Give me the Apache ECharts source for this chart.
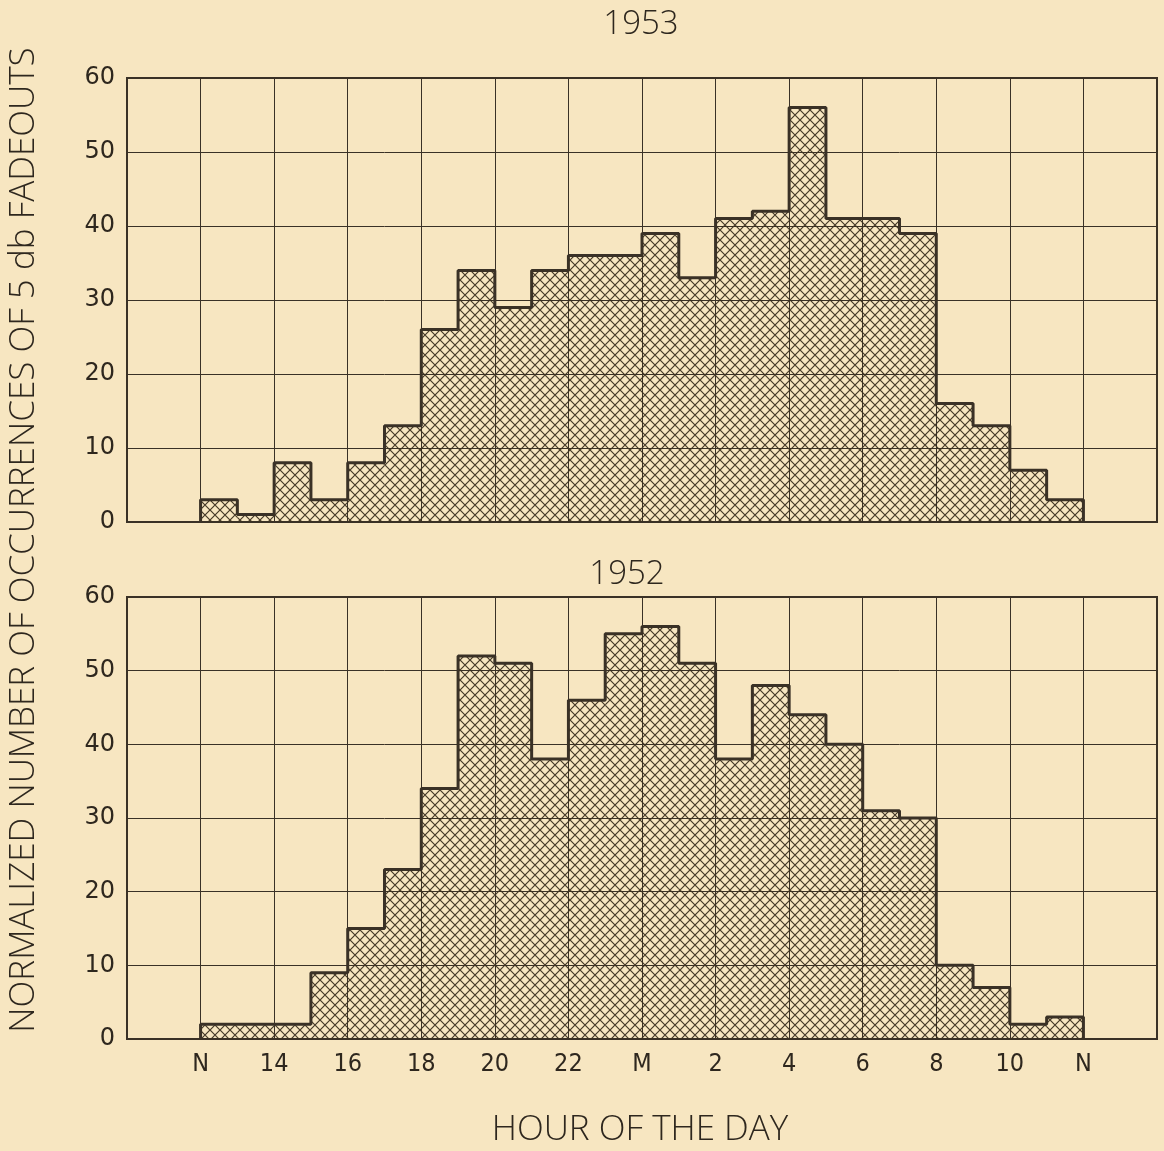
<!DOCTYPE html>
<html>
<head>
<meta charset="utf-8">
<title>5 db fadeouts by hour</title>
<script src="https://cdn.jsdelivr.net/npm/echarts@6/dist/echarts.min.js"></script>
<style>
  html, body { margin: 0; padding: 0; background: #f7e6c1; }
  #chart { width: 1164px; height: 1151px; }
</style>
</head>
<body>
<div id="chart"></div>
<script>
// hour at which each 1-hour bin starts (12 = noon, 24 = midnight, 36 = next noon)
var hours = [12, 13, 14, 15, 16, 17, 18, 19, 20, 21, 22, 23, 24, 25, 26, 27, 28, 29, 30, 31, 32, 33, 34, 35];
var counts1953 = [3, 1, 8, 3, 8, 13, 26, 34, 29, 34, 36, 36, 39, 33, 41, 42, 56, 41, 41, 39, 16, 13, 7, 3];
var counts1952 = [2, 2, 2, 9, 15, 23, 34, 52, 51, 38, 46, 55, 56, 51, 38, 48, 44, 40, 31, 30, 10, 7, 2, 3];
var tickValues = [10, 12, 14, 16, 18, 20, 22, 24, 26, 28, 30, 32, 34, 36, 38];
var tickLabels = ['', 'N', '14', '16', '18', '20', '22', 'M', '2', '4', '6', '8', '10', 'N', ''];

var ink = '#3a3126';

// cross hatch tile
var tile = document.createElement('canvas');
tile.width = 10; tile.height = 10;
var tc = tile.getContext('2d');
tc.strokeStyle = 'rgba(60,48,32,0.95)';
tc.lineWidth = 1.2;
tc.beginPath();
tc.moveTo(-1, -1); tc.lineTo(11, 11);
tc.moveTo(11, -1); tc.lineTo(-1, 11);
tc.stroke();
var hatch = { type: 'pattern', image: tile, repeat: 'repeat' };

var myChart = echarts.init(document.getElementById('chart'));

function renderBar(params, api) {
  var x0 = api.value(0), v = api.value(1);
  var p0 = api.coord([x0, v]);
  var p1 = api.coord([x0 + 1, 0]);
  return {
    type: 'rect',
    shape: { x: p0[0], y: p0[1], width: p1[0] - p0[0], height: p1[1] - p0[1] },
    style: { fill: hatch }
  };
}

function outline(vals) {
  var pts = [[hours[0], 0]];
  hours.forEach(function (h, i) { pts.push([h, vals[i]]); });
  var last = hours[hours.length - 1] + 1;
  pts.push([last, vals[vals.length - 1]]);
  pts.push([last, 0]);
  return pts;
}

function barData(vals) {
  return hours.map(function (h, i) { return [h, vals[i]]; });
}

function xAxisFor(idx, showLabels) {
  return {
    type: 'value', gridIndex: idx, min: 10, max: 38, interval: 2,
    axisLine: { show: false },
    axisTick: { show: false },
    splitLine: { show: true, lineStyle: { color: ink, width: 1 } },
    axisLabel: {
      show: showLabels,
      margin: 13,
      color: '#2e271e',
      fontFamily: 'Liberation Sans Narrow, DejaVu Sans Condensed, sans-serif',
      fontSize: 25,
      formatter: function (v) {
        var k = tickValues.indexOf(v);
        return k >= 0 ? tickLabels[k] : '';
      }
    }
  };
}

function yAxisFor(idx) {
  return {
    type: 'value', gridIndex: idx, min: 0, max: 60, interval: 10,
    axisLine: { show: false },
    axisTick: { show: false },
    splitLine: { show: true, lineStyle: { color: ink, width: 1 } },
    axisLabel: {
      margin: 12,
      color: '#2e271e',
      fontFamily: 'DejaVu Sans, sans-serif',
      fontSize: 24
    }
  };
}

myChart.setOption({
  backgroundColor: '#f7e6c1',
  animation: false,
  grid: [
    { left: 127, top: 78, width: 1030, height: 444, show: true, borderColor: ink, borderWidth: 2, backgroundColor: 'transparent' },
    { left: 127, top: 597, width: 1030, height: 442, show: true, borderColor: ink, borderWidth: 2, backgroundColor: 'transparent' }
  ],
  xAxis: [xAxisFor(0, false), xAxisFor(1, true)],
  yAxis: [yAxisFor(0), yAxisFor(1)],
  graphic: [
    { type: 'text', x: 641, y: 25, style: { text: '1953', font: '300 33px "Open Sans", sans-serif', fill: '#2e271e', align: 'center', verticalAlign: 'middle' } },
    { type: 'text', x: 627, y: 575, style: { text: '1952', font: '300 33px "Open Sans", sans-serif', fill: '#2e271e', align: 'center', verticalAlign: 'middle' } },
    { type: 'text', x: 640, y: 1130, style: { text: 'HOUR OF THE DAY', font: '300 35px "Open Sans", sans-serif', fill: '#2e271e', align: 'center', verticalAlign: 'middle' } },
    { type: 'text', x: 24, y: 540, rotation: Math.PI / 2, style: { text: 'NORMALIZED NUMBER OF OCCURRENCES OF 5 db FADEOUTS', font: '300 35px "Open Sans", sans-serif', fill: '#2e271e', align: 'center', verticalAlign: 'middle' } }
  ],
  series: [
    { type: 'custom', xAxisIndex: 0, yAxisIndex: 0, renderItem: renderBar, data: barData(counts1953), z: 1, silent: true },
    { type: 'line', xAxisIndex: 0, yAxisIndex: 0, step: 'end', data: outline(counts1953), symbol: 'none', lineStyle: { color: ink, width: 3 }, z: 5, silent: true },
    { type: 'custom', xAxisIndex: 1, yAxisIndex: 1, renderItem: renderBar, data: barData(counts1952), z: 1, silent: true },
    { type: 'line', xAxisIndex: 1, yAxisIndex: 1, step: 'end', data: outline(counts1952), symbol: 'none', lineStyle: { color: ink, width: 3 }, z: 5, silent: true }
  ]
});
</script>
</body>
</html>
